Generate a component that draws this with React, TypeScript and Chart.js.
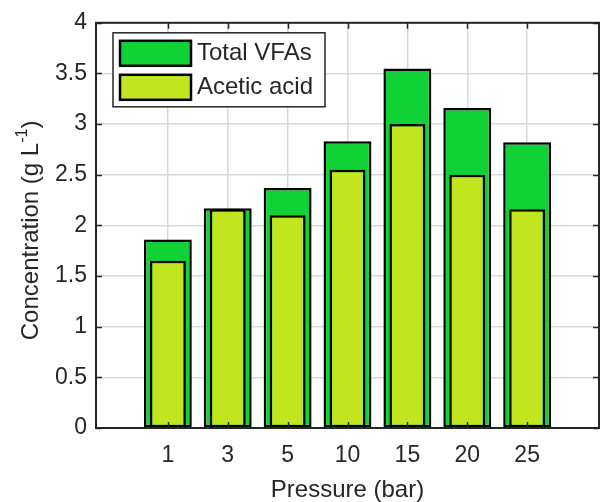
import React, { useEffect, useRef } from "react";
import { Chart, registerables } from "chart.js";

Chart.register(...registerables);

// ---- data ----
const pressures = ["1", "3", "5", "10", "15", "20", "25"];
const totalVFAs = [1.86, 2.17, 2.37, 2.83, 3.55, 3.16, 2.82];
const aceticAcid = [1.65, 2.16, 2.1, 2.55, 3.0, 2.5, 2.16];
const yTickValues = [0, 0.5, 1, 1.5, 2, 2.5, 3, 3.5, 4];
const seriesNames = ["Total VFAs", "Acetic acid"];
const xTitle = "Pressure (bar)";
const yTitleMain = "Concentration (g L";
const yTitleSup = "-1";
const yTitleEnd = ")";

// ---- style ----
const seriesColors = ["#10d236", "#c1e61f"];
const textColor = "#262626";
const gridColor = "#d9d9d9";
const FONT = "'Liberation Sans', Arial, sans-serif";

const framePlugin = {
  id: "matlabFrame",
  afterDraw(chart: any) {
    const { ctx, chartArea: a, scales } = chart;
    const xs = scales.x;
    const ys = scales.y;
    ctx.save();
    // inward tick marks on all four sides
    ctx.strokeStyle = textColor;
    ctx.lineWidth = 1.5;
    const L = 6;
    ctx.beginPath();
    xs.ticks.forEach((t: any) => {
      const px = Math.round(xs.getPixelForValue(t.value)) + 0.5;
      ctx.moveTo(px, a.bottom);
      ctx.lineTo(px, a.bottom - L);
      ctx.moveTo(px, a.top);
      ctx.lineTo(px, a.top + L);
    });
    ys.ticks.forEach((t: any) => {
      const py = Math.round(ys.getPixelForValue(t.value)) + 0.5;
      ctx.moveTo(a.left, py);
      ctx.lineTo(a.left + L, py);
      ctx.moveTo(a.right, py);
      ctx.lineTo(a.right - L, py);
    });
    ctx.stroke();
    // box
    ctx.lineWidth = 2;
    ctx.strokeRect(a.left, a.top, a.right - a.left, a.bottom - a.top);

    // legend
    const lx = a.left + 17;
    const ly = a.top + 10;
    const lw = 212;
    const lh = 74;
    ctx.fillStyle = "#ffffff";
    ctx.fillRect(lx, ly, lw, lh);
    ctx.strokeStyle = textColor;
    ctx.lineWidth = 1.5;
    ctx.strokeRect(lx, ly, lw, lh);
    seriesNames.forEach((name, i) => {
      const py = ly + 8 + i * 34;
      ctx.fillStyle = seriesColors[i];
      ctx.fillRect(lx + 7, py, 71, 25);
      ctx.strokeStyle = "#000000";
      ctx.lineWidth = 2.5;
      ctx.strokeRect(lx + 7, py, 71, 25);
      ctx.fillStyle = textColor;
      ctx.font = `24px ${FONT}`;
      ctx.textAlign = "left";
      ctx.textBaseline = "middle";
      ctx.fillText(name, lx + 84, py + 13);
    });

    // y-axis title with superscript
    ctx.translate(38, (a.top + a.bottom) / 2 + 5);
    ctx.rotate(-Math.PI / 2);
    ctx.fillStyle = textColor;
    ctx.textBaseline = "alphabetic";
    ctx.textAlign = "left";
    ctx.font = `24px ${FONT}`;
    const w1 = ctx.measureText(yTitleMain).width;
    const w3 = ctx.measureText(yTitleEnd).width;
    ctx.font = `16px ${FONT}`;
    const w2 = ctx.measureText(yTitleSup).width;
    let x0 = -(w1 + w2 + w3) / 2;
    ctx.font = `24px ${FONT}`;
    ctx.fillText(yTitleMain, x0, 0);
    x0 += w1;
    ctx.font = `16px ${FONT}`;
    ctx.fillText(yTitleSup, x0, -11);
    x0 += w2;
    ctx.font = `24px ${FONT}`;
    ctx.fillText(yTitleEnd, x0, 0);
    ctx.restore();
  },
};

export default function App() {
  const ref = useRef<HTMLCanvasElement>(null);

  useEffect(() => {
    const idx = pressures.map((_, i) => i);
    const chart = new Chart(ref.current as HTMLCanvasElement, {
      type: "bar",
      data: {
        datasets: [
          {
            label: seriesNames[0],
            data: idx.map((i) => ({ x: i, y: totalVFAs[i] })),
            backgroundColor: seriesColors[0],
            borderColor: "#000000",
            borderWidth: 2.5,
            borderSkipped: false,
            grouped: false,
            order: 1,
            barPercentage: 0.8,
            categoryPercentage: 1,
          } as any,
          {
            label: seriesNames[1],
            data: idx.map((i) => ({ x: i, y: aceticAcid[i] })),
            backgroundColor: seriesColors[1],
            borderColor: "#000000",
            borderWidth: 2.5,
            borderSkipped: false,
            grouped: false,
            order: 0,
            barPercentage: 0.6,
            categoryPercentage: 1,
          } as any,
        ],
      },
      options: {
        responsive: false,
        animation: false,
        devicePixelRatio: 1,
        layout: { padding: { top: 20, right: 1, left: 0, bottom: 0 } },
        plugins: {
          legend: { display: false },
          tooltip: { enabled: false },
        },
        scales: {
          x: {
            type: "linear",
            min: -1.2,
            max: 7.2,
            offset: false,
            grid: { color: gridColor, lineWidth: 1.5, drawTicks: false, offset: false },
            border: { display: false },
            afterBuildTicks: (scale: any) => {
              scale.ticks = idx.map((v) => ({ value: v }));
            },
            afterFit: (scale: any) => {
              scale.height = 74;
            },
            ticks: {
              autoSkip: false,
              maxRotation: 0,
              padding: 14,
              color: textColor,
              font: { family: FONT, size: 23 },
              callback: (v: any) => pressures[Math.round(Number(v))] ?? "",
            },
            title: {
              display: true,
              text: xTitle,
              color: textColor,
              font: { family: FONT, size: 24, lineHeight: 1 },
              padding: 0,
            },
          } as any,
          y: {
            type: "linear",
            min: 0,
            max: 4,
            grid: { color: gridColor, lineWidth: 1.5, drawTicks: false },
            border: { display: false },
            afterBuildTicks: (scale: any) => {
              scale.ticks = yTickValues.map((v) => ({ value: v }));
            },
            afterFit: (scale: any) => {
              scale.width = 96;
            },
            ticks: {
              padding: 9,
              color: textColor,
              font: { family: FONT, size: 23 },
              callback: (v: any) => String(v),
            },
          } as any,
        },
      },
      plugins: [framePlugin],
    });
    return () => chart.destroy();
  }, []);

  return (
    <div
      style={{
        position: "fixed",
        left: 0,
        top: 0,
        width: 600,
        height: 502,
        background: "#ffffff",
      }}
    >
      <canvas
        ref={ref}
        width={600}
        height={502}
        style={{ display: "block", width: 600, height: 502 }}
      />
    </div>
  );
}
